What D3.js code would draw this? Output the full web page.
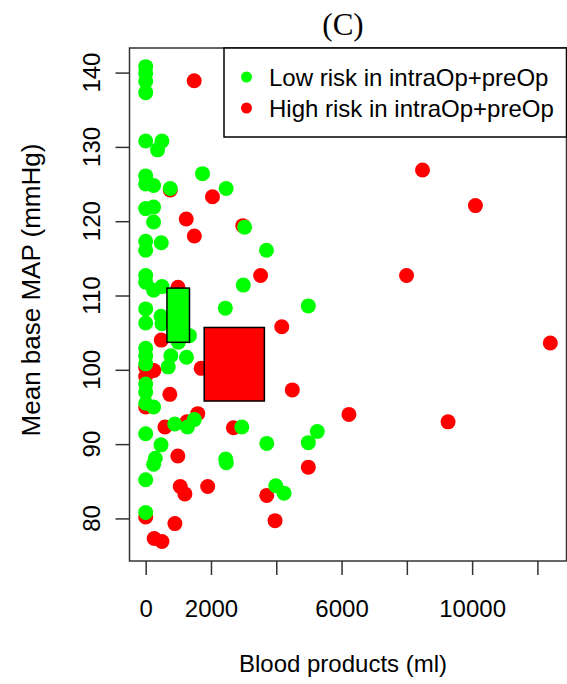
<!DOCTYPE html>
<html><head><meta charset="utf-8">
<script src="https://cdn.jsdelivr.net/npm/d3@7"></script>
<style>body{margin:0;background:#fff}svg{display:block}</style>
</head><body>
<script>
// ---- data ----
const lowX = [0,0,0,0,0,498,364,0,0,242,752,1740,2465,0,242,242,0,0,477,3700,0,0,242,500,2990,4982,2440,0,0,470,500,1340,1000,0,0,770,1250,690,0,0,0,0,242,890,1280,1490,2945,0,470,294,242,2450,2470,0,0,3709,5257,4982,3985,4239,3030];
const lowY = [140.8,139.9,138.8,137.3,130.8,130.8,129.6,126.1,125.0,124.8,124.4,126.4,124.4,121.7,121.9,119.9,117.3,116.1,117.1,116.1,112.7,111.8,110.7,111.2,111.4,108.6,108.3,108.2,106.3,107.2,106.2,104.6,103.7,102.9,101.9,101.9,101.7,100.4,100.8,98.1,97.0,95.5,95.0,92.7,92.3,93.3,92.3,91.4,89.9,88.1,87.3,88.0,87.5,85.2,80.8,90.1,91.7,90.2,84.4,83.4,119.2];
const highX = [1486,2046,1242,1490,2975,3520,990,477,1700,0,250,0,740,0,1595,1263,590,2688,985,1058,1200,1900,3709,0,895,260,498,4168,8480,10101,7991,12395,4492,6226,9263,4982,3963,752];
const highY = [138.9,123.3,120.3,118.0,119.4,112.7,111.1,104.0,100.2,100.3,99.9,99.1,96.7,95.0,94.1,93.0,92.3,92.2,88.4,84.3,83.3,84.3,83.1,80.2,79.3,77.3,76.9,105.8,126.9,122.1,112.7,103.6,97.3,94.0,93.0,86.9,79.7,124.2];
// summary boxes [x0, x1, y0, y1]
const lowBox = [651, 1342, 103.7, 111.0];
const highBox = [1792, 3636, 95.8, 105.7];
const xTicks = [0,2000,4000,6000,8000,10000,12000];
const xTickLabels = ["0","2000","","6000","","10000",""];
const yTicks = [80,90,100,110,120,130,140];
const legendLabels = ["Low risk in intraOp+preOp","High risk in intraOp+preOp"];
const colors = ["#00ff00","#ff0000"];

// ---- layout ----
const W = 567, H = 684;
const L = 129.5, R = 566.5, T = 48, B = 561;
const svg = d3.select("body").append("svg").attr("width", W).attr("height", H);
const x = d3.scaleLinear().domain([-496, 12891]).range([L, R]);
const y = d3.scaleLinear().domain([74.27, 143.31]).range([B, T]);
const sans = "Liberation Sans, Arial, sans-serif";

// points
const pts = [];
highX.forEach((v,i)=>pts.push({x:v,y:highY[i],c:colors[1]}));
lowX.forEach((v,i)=>pts.push({x:v,y:lowY[i],c:colors[0]}));
svg.append("g").selectAll("circle").data(pts).join("circle")
  .attr("cx", d=>x(d.x)).attr("cy", d=>y(d.y)).attr("r", 7.5).attr("fill", d=>d.c);

// boxes
[[lowBox, colors[0]],[highBox, colors[1]]].forEach(([b,c])=>{
  svg.append("rect").attr("x", x(b[0])).attr("y", y(b[3]))
    .attr("width", x(b[1])-x(b[0])).attr("height", y(b[2])-y(b[3]))
    .attr("fill", c).attr("stroke", "#000").attr("stroke-width", 1.5);
});

// frame
svg.append("rect").attr("x", L).attr("y", T).attr("width", R-L).attr("height", B-T)
  .attr("fill","none").attr("stroke","#333").attr("stroke-width",1.5);

// x axis
const xa = svg.append("g").attr("transform", `translate(0,${B})`)
  .call(d3.axisBottom(x).tickValues(xTicks).tickSize(14).tickPadding(25).tickFormat((d,i)=>xTickLabels[i]));
xa.select(".domain").remove();
xa.selectAll("line").attr("stroke","#333").attr("stroke-width",1.5);
xa.selectAll("text").attr("font-family", sans).attr("font-size", 24).attr("fill","#000");

// y axis
const ya = svg.append("g").attr("transform", `translate(${L},0)`)
  .call(d3.axisLeft(y).tickValues(yTicks).tickSize(14).tickFormat(""));
ya.select(".domain").remove();
ya.selectAll("line").attr("stroke","#333").attr("stroke-width",1.5);
svg.append("g").selectAll("text").data(yTicks).join("text")
  .attr("transform", d=>`translate(99.5,${y(d)}) rotate(-90)`)
  .attr("text-anchor","middle").attr("font-family", sans).attr("font-size", 24).text(d=>d);

// axis titles
svg.append("text").attr("x", 343).attr("y", 672).attr("text-anchor","middle")
  .attr("font-family", sans).attr("font-size", 24).text("Blood products (ml)");
svg.append("text").attr("transform", `translate(40,290) rotate(-90)`).attr("text-anchor","middle")
  .attr("font-family", sans).attr("font-size", 26).text("Mean base MAP (mmHg)");

// title
svg.append("text").attr("x", 343).attr("y", 35).attr("text-anchor","middle")
  .attr("font-family", "Liberation Serif, Times New Roman, serif").attr("font-size", 31).text("(C)");

// legend
svg.append("rect").attr("x", 224).attr("y", T).attr("width", R-224).attr("height", 89)
  .attr("fill","#fff").attr("stroke","#000").attr("stroke-width",1.5);
legendLabels.forEach((t,i)=>{
  const cy = 77 + i*31;
  svg.append("circle").attr("cx", 246.5).attr("cy", cy).attr("r", 5.5).attr("fill", colors[i]);
  svg.append("text").attr("x", 269).attr("y", cy+8.5).attr("font-family", sans).attr("font-size", 24).text(t);
});
</script>
</body></html>
